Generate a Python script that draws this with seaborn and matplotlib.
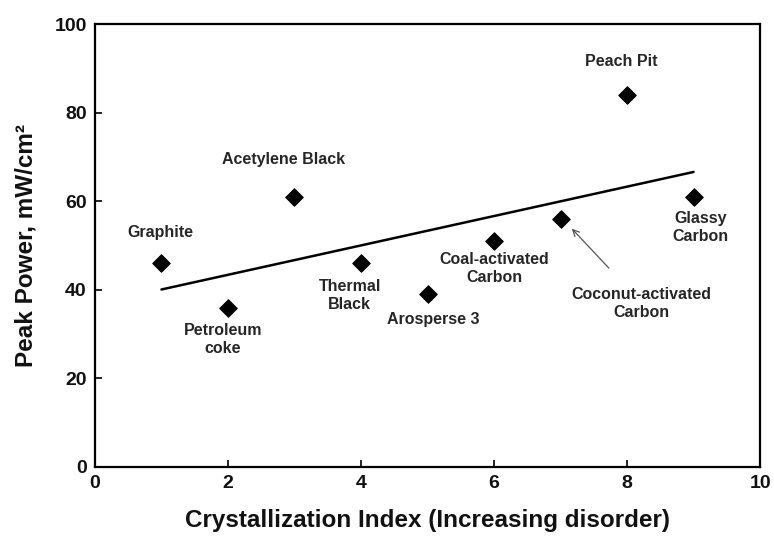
import numpy as np
import pandas as pd
import matplotlib
matplotlib.use("Agg")
import matplotlib.pyplot as plt
from matplotlib.ticker import MultipleLocator
import seaborn as sns

# data
materials = ["Graphite", "Petroleum coke", "Acetylene Black", "Thermal Black",
             "Arosperse 3", "Coal-activated Carbon", "Coconut-activated Carbon",
             "Peach Pit", "Glassy Carbon"]
cryst_index = [1, 2, 3, 4, 5, 6, 7, 8, 9]
peak_power = [46, 36, 61, 46, 39, 51, 56, 84, 61]

# label text and where it sits (data coords)
label_text = ["Graphite", "Petroleum\ncoke", "Acetylene Black", "Thermal\nBlack",
              "Arosperse 3", "Coal-activated\nCarbon", None,
              "Peach Pit", "Glassy\nCarbon"]
label_x = [0.99, 1.92, 2.84, 3.83, 5.08, 6.0, None, 7.92, 9.1]
label_y = [53.0, 28.7, 69.3, 38.6, 33.2, 44.9, None, 91.6, 54.0]

df = pd.DataFrame({"material": materials, "x": cryst_index, "y": peak_power})

sns.set_style("white")
plt.rcParams["font.family"] = ["Liberation Sans", "DejaVu Sans"]
plt.rcParams["font.weight"] = "bold"

fig = plt.figure(figsize=(7.74, 5.37), dpi=100)
ax = fig.add_axes([0.1227, 0.1304, 0.8593, 0.8249])

sns.regplot(data=df, x="x", y="y", scatter=False, ci=None, truncate=True,
            color="black", line_kws={"linewidth": 1.8}, ax=ax)
sns.scatterplot(data=df, x="x", y="y", marker="D", s=80, color="black",
                edgecolor="black", zorder=3, ax=ax)

for txt, lx, ly in zip(label_text, label_x, label_y):
    if txt is None:
        continue
    ax.text(lx, ly, txt, ha="center", va="center", fontsize=11.5,
            fontweight="bold", color="#262626", linespacing=1.25)

# the coconut-activated one gets an arrow
ax.annotate("Coconut-activated\nCarbon", xy=(7.17, 53.8), xytext=(8.22, 37.0),
            ha="center", va="center", fontsize=11.5, fontweight="bold",
            color="#262626", linespacing=1.25,
            arrowprops=dict(arrowstyle="->", color="#555555", lw=0.9,
                            shrinkA=15, shrinkB=0))

ax.set_xlim(0, 10)
ax.set_ylim(0, 100)
ax.xaxis.set_major_locator(MultipleLocator(2))
ax.xaxis.set_minor_locator(MultipleLocator(1))
ax.yaxis.set_major_locator(MultipleLocator(20))
ax.tick_params(axis="both", which="major", direction="in", length=5, width=1.2,
               labelsize=14, pad=6, colors="black", labelcolor="#111111")
ax.tick_params(axis="x", which="minor", direction="in", length=3, width=1.2)
ax.tick_params(axis="x", which="major", bottom=True)
ax.tick_params(axis="y", which="major", left=True)
for lab in ax.get_xticklabels() + ax.get_yticklabels():
    lab.set_fontweight("bold")

for sp in ax.spines.values():
    sp.set_visible(True)
    sp.set_color("black")
    sp.set_linewidth(1.6)

ax.set_xlabel("Crystallization Index (Increasing disorder)", fontsize=17.5,
              fontweight="bold", labelpad=12, color="#111111")
ax.set_ylabel("Peak Power, mW/cm²", fontsize=17.5, fontweight="bold",
              labelpad=12, color="#111111")

fig.savefig("out.png", dpi=100)
